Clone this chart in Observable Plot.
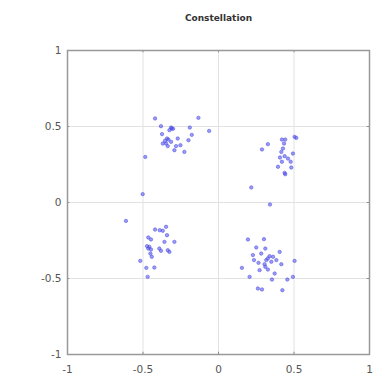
<!DOCTYPE html>
<html><head><meta charset="utf-8">
<script src="https://cdn.jsdelivr.net/npm/d3@7"></script>
<script src="https://cdn.jsdelivr.net/npm/@observablehq/plot@0.6"></script>
<style>body{margin:0;background:#fff}</style>
</head><body><div id="chart"></div>
<script>
const title = "Constellation";
const ticks = [-1, -0.5, 0, 0.5, 1];
const xs = [
 -0.42,-0.133,-0.381,-0.314,-0.301,-0.325,-0.19,-0.062,-0.374,-0.177,-0.341,-0.354,-0.332,-0.369,-0.314,-0.281,-0.252,-0.199,-0.336,-0.292,-0.226,-0.485,-0.31,-0.347,-0.27,
 0.504,0.515,0.42,0.442,0.327,0.288,0.427,0.416,0.493,0.438,0.407,0.42,0.478,0.394,0.482,0.438,0.442,0.217,0.341,0.434,0.46,
 -0.502,-0.613,-0.42,-0.389,-0.347,-0.369,-0.341,-0.465,-0.447,-0.292,-0.358,-0.473,-0.465,-0.447,-0.392,-0.381,-0.336,-0.325,-0.451,-0.442,-0.518,-0.478,-0.425,-0.469,-0.458,
 0.195,0.301,0.25,0.31,0.228,0.283,0.338,0.361,0.405,0.327,0.383,0.235,0.265,0.305,0.31,0.416,0.504,0.155,0.272,0.327,0.372,0.206,0.354,0.456,0.493,0.261,0.288,0.423,0.35,0.316
];
const ys = [
 0.553,0.557,0.502,0.493,0.485,0.476,0.493,0.471,0.45,0.445,0.421,0.406,0.414,0.388,0.399,0.371,0.377,0.41,0.371,0.344,0.333,0.30,0.487,0.388,0.421,
 0.432,0.425,0.414,0.414,0.384,0.349,0.355,0.333,0.322,0.305,0.296,0.268,0.268,0.235,0.23,0.195,0.186,0.099,-0.013,0.388,0.289,
 0.055,-0.121,-0.178,-0.182,-0.16,-0.186,-0.215,-0.23,-0.243,-0.259,-0.259,-0.287,-0.303,-0.309,-0.303,-0.318,-0.314,-0.325,-0.336,-0.357,-0.384,-0.43,-0.428,-0.489,-0.292,
 -0.243,-0.241,-0.296,-0.303,-0.346,-0.336,-0.353,-0.357,-0.325,-0.368,-0.379,-0.379,-0.397,-0.406,-0.423,-0.406,-0.384,-0.43,-0.445,-0.441,-0.467,-0.489,-0.507,-0.507,-0.489,-0.566,-0.572,-0.577,-0.39,-0.379
];
const pts = xs.map((x, i) => ({x, y: ys[i]}));
const fmt = d => String(d);
const chart = Plot.plot({
  width: 386, height: 377,
  marginTop: 50, marginBottom: 23, marginLeft: 67, marginRight: 17,
  style: {fontFamily: "DejaVu Sans, sans-serif", fontSize: "10px", color: "#555", background: "#fff"},
  x: {domain: [-1, 1], ticks, tickFormat: fmt, label: null},
  y: {domain: [-1, 1], ticks, tickFormat: fmt, label: null},
  marks: [
    Plot.gridX(ticks, {stroke: "#e2e2e2", strokeOpacity: 1, strokeWidth: 1}),
    Plot.gridY(ticks, {stroke: "#e2e2e2", strokeOpacity: 1, strokeWidth: 1}),
    Plot.axisX(ticks, {tickSize: 0, tickPadding: 11, tickFormat: fmt, fill: "#555", fontSize: 10.5}),
    Plot.axisY(ticks, {tickSize: 0, tickPadding: 6, tickFormat: fmt, fill: "#555", fontSize: 10.5}),
    Plot.ruleX(ticks, {x: d => d, y1: 1, y2: 0.985, stroke: "#888"}),
    Plot.ruleX(ticks, {x: d => d, y1: -1, y2: -0.985, stroke: "#888"}),
    Plot.ruleY(ticks, {y: d => d, x1: -1, x2: -0.985, stroke: "#888"}),
    Plot.ruleY(ticks, {y: d => d, x1: 1, x2: 0.985, stroke: "#888"}),
    Plot.frame({stroke: "#999", strokeWidth: 1.5}),
    Plot.dot(pts, {x: "x", y: "y", r: 1.7, stroke: "#5050e0", strokeWidth: 0.7, strokeOpacity: 0.8, fill: "#4848f0", fillOpacity: 0.55}),
    Plot.text([title], {frameAnchor: "top", dy: -36, text: d => d, fontWeight: "bold", fontSize: 9, fill: "#333"})
  ]
});
document.getElementById("chart").append(chart);
</script>
</body></html>
